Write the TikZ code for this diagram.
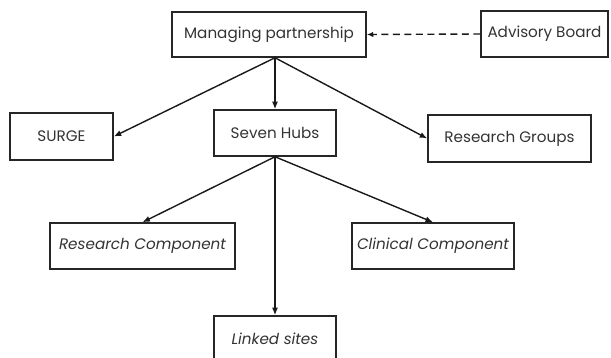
\documentclass[tikz,border=0pt]{standalone}
\usepackage{fontspec}
\setmainfont{Poppins}
\usetikzlibrary{arrows.meta}
\begin{document}
\begin{tikzpicture}[x=1pt,y=-1pt,
  box/.style={draw=black!85, line width=1.5pt, inner sep=0pt, text=black!80,
    font=\fontsize{15.2}{18}\selectfont},
  arr/.style={-{Latex[length=7.5pt,width=6pt]}, line width=1.4pt, draw=black!90},
  dasharr/.style={-{Latex[length=6.5pt,width=5.5pt]}, line width=1.4pt, dash pattern=on 7pt off 4.5pt, draw=black!90}]
\useasboundingbox (0,0) rectangle (611,358);
\node[box, minimum width=194pt, minimum height=45pt] (mp) at (269,34.5) {Managing partnership};
\node[box, minimum width=127pt, minimum height=46pt] (ab) at (544.5,34) {Advisory Board};
\node[box, minimum width=103pt, minimum height=47pt] (surge) at (61.5,136.5) {SURGE};
\node[box, minimum width=122pt, minimum height=46pt] (hubs) at (275,133) {Seven Hubs};
\node[box, minimum width=163pt, minimum height=47pt] (rg) at (509.5,138.5) {Research Groups};
\node[box, minimum width=185pt, minimum height=46pt] (rc) at (142.5,246) {\itshape Research Component};
\node[box, minimum width=162pt, minimum height=46pt] (cc) at (433,246) {\itshape Clinical Component};
\node[box, minimum width=122pt, minimum height=46pt] (ls) at (275,339) {\itshape Linked sites};
\coordinate (mpb) at (mp.south -| hubs.north);
\draw[dasharr] (ab.west) -- (mp.east);
\draw[arr] (mpb) -- (surge.east);
\draw[arr] (mpb) -- (hubs.north);
\draw[arr] (mpb) -- (rg.west);
\draw[arr] (hubs.south) -- (rc.north);
\draw[arr] (hubs.south) -- (cc.north);
\draw[arr] (hubs.south) -- (ls.north);
\end{tikzpicture}
\end{document}
